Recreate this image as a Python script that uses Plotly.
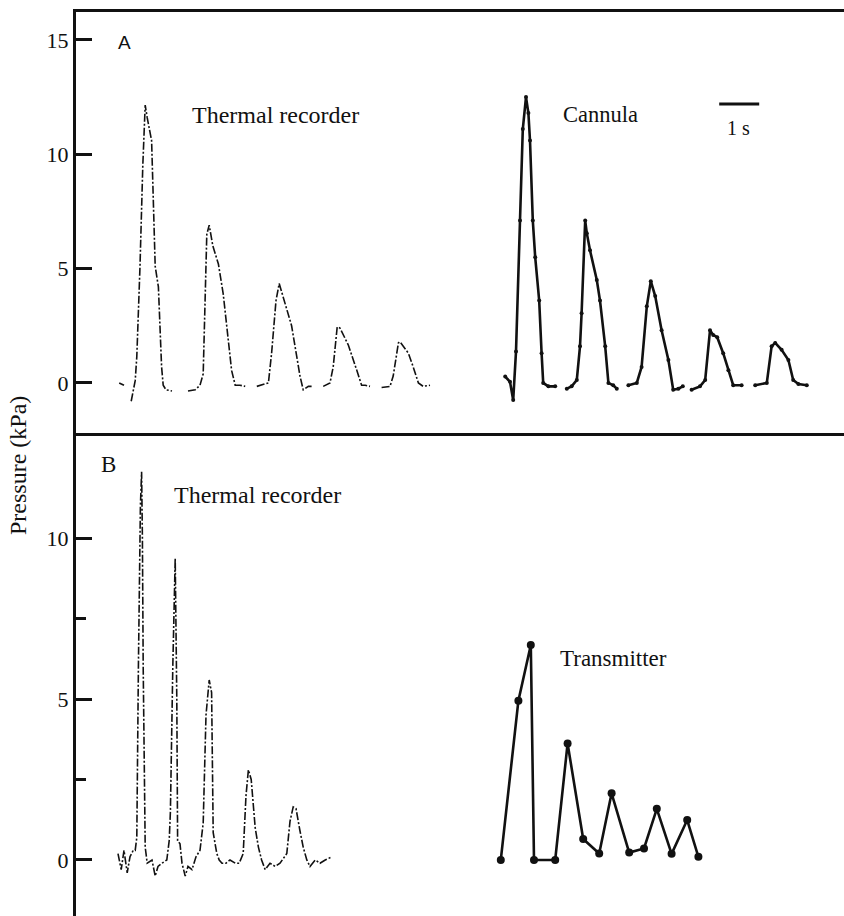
import plotly.graph_objects as go
from plotly.subplots import make_subplots

# ---------------- data (time in s, pressure in kPa) ----------------
thermal_a_t = [1.08, 1.2, None,
               1.38, 1.45, 1.48, 1.52, 1.6, 1.67, 1.73, 1.78, 1.81, 1.89, 1.98, 2.06, 2.14, 2.18, 2.25, 2.4, None,
               2.8, 2.98, 3.1, 3.18, 3.27, 3.33, 3.42, 3.56, 3.68, 3.89, 3.98, 4.1, 4.23, None,
               4.52, 4.81, 4.89, 5.0, 5.08, 5.17, 5.25, 5.39, 5.6, 5.68, 5.81, 5.89, None,
               6.18, 6.35, 6.43, 6.53, 6.6, 6.81, 7.02, 7.14, 7.23, 7.35, None,
               7.64, 7.85, 7.93, 8.06, 8.1, 8.31, 8.43, 8.56, 8.68, 8.85]
thermal_a_p = [0.0, -0.1, None,
               -0.8, -0.2, 0.1, 1.15, 5.1, 9.5, 12.15, 11.6, 11.3, 10.6, 5.1, 4.2, 0.7, -0.1, -0.3, -0.35, None,
               -0.35, -0.3, -0.1, 0.4, 6.5, 6.9, 6.0, 5.2, 3.9, 0.55, -0.1, -0.1, -0.15, None,
               -0.15, 0.0, 1.3, 3.6, 4.35, 3.8, 3.35, 2.5, 0.3, -0.3, -0.15, -0.15, None,
               -0.15, 0.0, 0.7, 2.45, 2.4, 1.65, 0.55, -0.1, -0.1, -0.15, None,
               -0.2, -0.15, 0.3, 1.75, 1.8, 1.3, 0.7, 0.0, -0.15, -0.1]

cannula_t = [10.73, 10.85, 10.93, 11.0, 11.1, 11.17, 11.25, 11.31, 11.35, 11.42, 11.48, 11.58, 11.64, 11.68, 11.81, 11.98, None,
             12.27, 12.39, 12.52, 12.6, 12.64, 12.73, 12.77, 12.85, 13.02, 13.1, 13.23, 13.31, 13.43, 13.52, None,
             13.81, 14.02, 14.14, 14.27, 14.37, 14.48, 14.64, 14.81, 14.93, 15.06, 15.17, None,
             15.39, 15.6, 15.73, 15.85, 15.93, 16.03, 16.18, 16.31, 16.43, 16.64, None,
             16.98, 17.27, 17.39, 17.48, 17.64, 17.81, 17.93, 18.06, 18.27]
cannula_p = [0.28, 0.05, -0.75, 1.37, 7.1, 11.1, 12.5, 11.8, 10.6, 7.1, 5.5, 3.6, 1.3, 0.0, -0.15, -0.15, None,
             -0.25, -0.15, 0.13, 1.6, 3.05, 7.1, 6.55, 5.8, 4.5, 3.6, 1.6, 0.0, -0.1, -0.25, None,
             -0.1, 0.0, 0.7, 3.35, 4.45, 3.8, 2.3, 1.0, -0.3, -0.25, -0.15, None,
             -0.3, -0.15, 0.13, 2.3, 2.1, 2.0, 1.3, 0.55, -0.1, -0.1, None,
             -0.1, 0.0, 1.6, 1.75, 1.45, 1.0, 0.13, -0.05, -0.1]

thermal_b_t = [1.05, 1.13, 1.2, 1.28, 1.35, 1.43, 1.48, 1.52, 1.56, 1.61, 1.64, 1.66, 1.68, 1.73, 1.78, 1.9, 1.98,
               2.05, 2.15, 2.27, 2.33, 2.36, 2.42, 2.48, 2.52, 2.54, 2.6, 2.65, 2.73, 2.8, 2.9, 3.0, 3.1, 3.18,
               3.25, 3.33, 3.39, 3.43, 3.52, 3.58, 3.65, 3.75, 3.85, 3.98, 4.08, 4.18, 4.25, 4.31, 4.38, 4.48,
               4.56, 4.64, 4.73, 4.85, 4.98, 5.1, 5.27, 5.35, 5.43, 5.5, 5.6, 5.68, 5.77, 5.85, 5.98, 6.1, 6.23, 6.4]
thermal_b_p = [0.2, -0.3, 0.3, -0.4, 0.1, 0.3, 0.3, 0.7, 6.0, 11.0, 12.06, 10.0, 6.0, 0.4, -0.1, 0.0, -0.5,
               -0.2, -0.1, 0.0, 0.6, 1.5, 6.0, 9.37, 5.0, 0.6, 0.5, -0.1, -0.5, -0.2, -0.3, 0.1, 0.3, 1.15,
               4.5, 5.59, 5.2, 0.85, 0.2, 0.0, -0.1, -0.1, 0.0, -0.1, -0.1, 0.2, 2.0, 2.8, 2.5, 1.0,
               0.4, 0.0, -0.3, -0.1, -0.2, -0.1, 0.2, 1.2, 1.65, 1.6, 0.9, 0.4, 0.0, -0.2, 0.0, -0.1, 0.0, 0.1]

transmitter_t = [10.62, 11.06, 11.37, 11.45, 11.98, 12.29, 12.68, 13.08, 13.39, 13.83, 14.2, 14.52, 14.89, 15.28, 15.56]
transmitter_p = [0.0, 4.95, 6.68, 0.0, 0.0, 3.62, 0.65, 0.2, 2.07, 0.23, 0.36, 1.59, 0.19, 1.24, 0.1]

a_ticks = [0, 5, 10, 15]
b_ticks = [0, 5, 10]
b_minor = [2.5, 7.5]

# ---------------- layout geometry ----------------
W, H = 844, 916
ML, MR, MT, MB = 76, 0, 12, 0
SPLIT = 436  # pixel row of separator line
plot_h = H - MT - MB
split_frac = (H - MB - SPLIT) / plot_h

SERIF = "Liberation Serif, Times New Roman, serif"
BLACK = "#111111"

fig = make_subplots(rows=2, cols=1, vertical_spacing=0)

fig.add_trace(go.Scatter(x=thermal_a_t, y=thermal_a_p, mode="lines",
                         line=dict(color=BLACK, width=1.6, dash="8px,2px,2px,2px"),
                         connectgaps=False, name="Thermal recorder A"), row=1, col=1)
fig.add_trace(go.Scatter(x=cannula_t, y=cannula_p, mode="lines+markers",
                         line=dict(color=BLACK, width=2.6), marker=dict(size=4, color=BLACK),
                         connectgaps=False, name="Cannula"), row=1, col=1)
fig.add_trace(go.Scatter(x=thermal_b_t, y=thermal_b_p, mode="lines",
                         line=dict(color=BLACK, width=1.6, dash="8px,2px,2px,2px"),
                         name="Thermal recorder B"), row=2, col=1)
fig.add_trace(go.Scatter(x=transmitter_t, y=transmitter_p, mode="lines+markers",
                         line=dict(color=BLACK, width=2.6), marker=dict(size=8, color=BLACK),
                         name="Transmitter"), row=2, col=1)

x_range = [0, (W - ML - MR) / 40.0]
common_x = dict(range=x_range, showgrid=False, zeroline=False, showticklabels=False,
                ticks="", showline=True, linewidth=3, linecolor=BLACK, side="top", mirror=False)
fig.update_xaxes(**common_x)
tick_font = dict(family=SERIF, size=22, color=BLACK)
fig.update_layout(
    xaxis=dict(domain=[0, 1], anchor="y"),
    xaxis2=dict(domain=[0, 1], anchor="y2", matches="x"),
    yaxis=dict(domain=[split_frac, 1], range=[-2.32, 16.22], tickvals=a_ticks,
               ticks="inside", ticklen=16, tickwidth=3, tickcolor=BLACK,
               showline=True, linewidth=3, linecolor=BLACK, showgrid=False, zeroline=False,
               tickfont=tick_font, ticklabelstandoff=0),
    yaxis2=dict(domain=[0, split_frac], range=[-1.74, 13.17], tickvals=b_ticks,
                ticks="inside", ticklen=16, tickwidth=3, tickcolor=BLACK,
                minor=dict(tickvals=b_minor, ticks="inside", ticklen=10, tickwidth=3, tickcolor=BLACK),
                showline=True, linewidth=3, linecolor=BLACK, showgrid=False, zeroline=False,
                tickfont=tick_font, ticklabelstandoff=0),
)

fig.update_layout(
    width=W, height=H,
    margin=dict(l=ML, r=MR, t=MT, b=MB, pad=0),
    paper_bgcolor="white", plot_bgcolor="white",
    showlegend=False,
    font=dict(family=SERIF, size=23, color=BLACK),
)

ann = []
def txt(x, y, s, xref="x", yref="y", size=23, family=SERIF, **kw):
    ann.append(dict(x=x, y=y, xref=xref, yref=yref, text=s, showarrow=False,
                    font=dict(family=family, size=size, color=BLACK), **kw))

txt(1.2, 14.9, "A", family="Liberation Sans, Arial, sans-serif", size=19)
txt(4.98, 11.72, "Thermal recorder", size=24)
txt(13.1, 11.72, "Cannula", size=22.5)
txt(16.55, 11.15, "1 s", size=20)
txt(0.8, 12.27, "B", xref="x2", yref="y2")
txt(4.53, 11.34, "Thermal recorder", xref="x2", yref="y2", size=24)
txt(13.43, 6.27, "Transmitter", xref="x2", yref="y2", size=23)
ann.append(dict(x=0, y=(H - 466) / plot_h, xref="paper", yref="paper", xanchor="center",
                xshift=-58, text="Pressure (kPa)", textangle=-90, showarrow=False,
                font=dict(family=SERIF, size=24, color=BLACK)))
fig.update_layout(annotations=ann)

# 1 s scale bar (length = 1 s in data units)
fig.add_shape(type="line", xref="x", yref="y", x0=16.08, x1=17.08, y0=12.2, y1=12.2,
              line=dict(color=BLACK, width=3))

fig.write_html("out.html")
